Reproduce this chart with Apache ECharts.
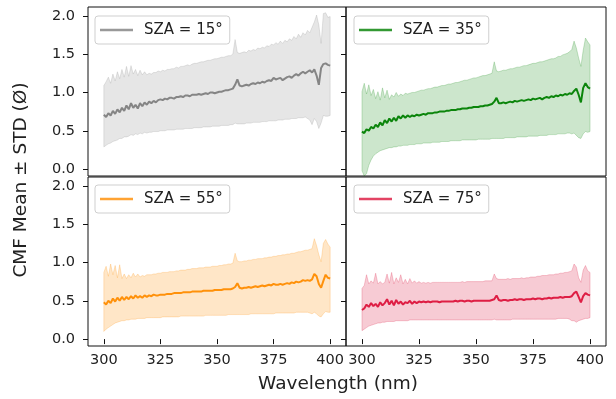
<!DOCTYPE html>
<html><head><meta charset="utf-8">
<script src="https://cdn.jsdelivr.net/npm/echarts@6/dist/echarts.min.js"></script>
<style>html,body{margin:0;padding:0;background:#fff}#c{width:616px;height:399px}</style>
</head><body><div id="c"></div>
<script>
const wavelengths = [300,301,302,303,304,305,306,307,308,309,310,311,312,313,314,315,316,317,318,319,320,321,322,323,324,325,326,327,328,329,330,331,332,333,334,335,336,337,338,339,340,341,342,343,344,345,346,347,348,349,350,351,352,353,354,355,356,357,358,359,360,361,362,363,364,365,366,367,368,369,370,371,372,373,374,375,376,377,378,379,380,381,382,383,384,385,386,387,388,389,390,391,392,393,394,395,396,397,398,399,400];

const seriesNames = ['SZA = 15°', 'SZA = 35°', 'SZA = 55°', 'SZA = 75°'];
const xTicks = [300, 325, 350, 375, 400];
const yTicks = [0, 0.5, 1.0, 1.5, 2.0];
const xLabel = 'Wavelength (nm)';
const yLabel = 'CMF Mean ± STD (Ø)';

// SZA = 15°
const mean15 = [0.71,0.68,0.73,0.70,0.76,0.72,0.78,0.74,0.80,0.76,
0.83,0.78,0.86,0.80,0.84,0.79,0.86,0.82,0.87,0.84,
0.88,0.86,0.89,0.87,0.90,0.91,0.90,0.92,0.91,0.93,
0.93,0.92,0.94,0.94,0.95,0.94,0.96,0.96,0.95,0.97,
0.97,0.97,0.98,0.97,0.98,0.99,0.98,1.00,1.00,0.99,
1.00,1.01,1.01,1.02,1.03,1.03,1.04,1.05,1.10,1.17,
1.09,1.08,1.09,1.10,1.09,1.11,1.12,1.11,1.13,1.12,
1.14,1.13,1.15,1.16,1.15,1.19,1.17,1.18,1.19,1.16,
1.18,1.20,1.21,1.19,1.22,1.24,1.22,1.25,1.27,1.25,
1.27,1.29,1.26,1.30,1.22,1.10,1.32,1.37,1.38,1.36,
1.35];
const upper15 = [1.09,1.14,1.20,1.12,1.24,1.15,1.27,1.18,1.30,1.20,
1.34,1.21,1.35,1.24,1.30,1.22,1.29,1.23,1.27,1.23,
1.25,1.24,1.26,1.26,1.28,1.27,1.29,1.28,1.30,1.30,
1.31,1.31,1.33,1.32,1.34,1.34,1.35,1.36,1.35,1.37,
1.38,1.38,1.39,1.40,1.40,1.41,1.42,1.42,1.43,1.44,
1.44,1.45,1.46,1.46,1.47,1.48,1.48,1.50,1.69,1.52,
1.51,1.52,1.53,1.52,1.55,1.54,1.56,1.55,1.58,1.57,
1.59,1.58,1.61,1.60,1.63,1.62,1.65,1.63,1.67,1.64,
1.68,1.66,1.70,1.68,1.73,1.70,1.76,1.72,1.78,1.75,
1.81,1.78,1.85,1.92,2.01,1.88,1.64,2.03,2.04,1.98,
1.99];
const lower15 = [0.29,0.31,0.33,0.34,0.36,0.37,0.38,0.40,0.40,0.42,
0.42,0.43,0.45,0.44,0.46,0.45,0.47,0.46,0.48,0.47,
0.48,0.48,0.49,0.49,0.49,0.50,0.50,0.50,0.51,0.51,
0.51,0.51,0.52,0.52,0.52,0.52,0.53,0.53,0.53,0.53,
0.54,0.54,0.54,0.54,0.55,0.55,0.55,0.55,0.56,0.56,
0.56,0.56,0.57,0.57,0.57,0.57,0.58,0.58,0.60,0.59,
0.59,0.59,0.59,0.60,0.60,0.60,0.61,0.61,0.61,0.61,
0.62,0.62,0.62,0.63,0.63,0.63,0.63,0.64,0.64,0.64,
0.65,0.65,0.65,0.66,0.66,0.66,0.67,0.67,0.67,0.68,
0.66,0.64,0.58,0.66,0.62,0.53,0.60,0.70,0.69,0.69,
0.70];

// SZA = 35°
const mean35 = [0.49,0.47,0.52,0.50,0.55,0.53,0.58,0.55,0.61,0.57,
0.64,0.60,0.66,0.62,0.67,0.63,0.69,0.66,0.70,0.67,
0.70,0.68,0.70,0.69,0.71,0.70,0.71,0.72,0.71,0.73,
0.73,0.73,0.74,0.74,0.75,0.75,0.75,0.76,0.76,0.77,
0.77,0.77,0.78,0.78,0.79,0.79,0.79,0.80,0.80,0.81,
0.81,0.81,0.82,0.82,0.83,0.83,0.84,0.85,0.88,0.93,
0.86,0.86,0.87,0.86,0.87,0.88,0.87,0.89,0.88,0.89,
0.90,0.89,0.90,0.91,0.90,0.92,0.91,0.92,0.93,0.91,
0.93,0.94,0.93,0.95,0.94,0.96,0.95,0.97,0.96,0.98,
0.97,0.99,0.98,1.02,1.05,0.97,0.87,1.06,1.12,1.07,
1.05];
const upper35 = [1.01,1.12,0.98,1.10,0.96,1.04,0.92,1.01,0.90,1.06,
0.93,1.03,0.91,0.97,0.94,1.00,0.95,0.98,0.96,0.99,
0.98,0.99,1.00,1.00,1.01,1.02,1.03,1.03,1.04,1.05,
1.05,1.06,1.07,1.07,1.08,1.09,1.09,1.10,1.11,1.11,
1.12,1.13,1.13,1.14,1.15,1.16,1.16,1.17,1.18,1.19,
1.19,1.20,1.21,1.22,1.22,1.23,1.24,1.25,1.40,1.28,
1.27,1.28,1.29,1.29,1.30,1.31,1.31,1.32,1.33,1.33,
1.34,1.35,1.35,1.36,1.37,1.38,1.38,1.39,1.40,1.40,
1.41,1.42,1.43,1.44,1.44,1.45,1.47,1.47,1.49,1.50,
1.51,1.53,1.56,1.67,1.58,1.45,1.34,1.55,1.71,1.66,
1.62];
const lower35 = [-0.02,-0.09,-0.06,0.05,0.12,0.17,0.20,0.22,0.24,0.25,
0.26,0.27,0.28,0.28,0.29,0.29,0.30,0.30,0.31,0.31,
0.31,0.32,0.32,0.32,0.33,0.33,0.33,0.34,0.34,0.34,
0.34,0.35,0.35,0.35,0.35,0.36,0.36,0.36,0.36,0.37,
0.37,0.37,0.37,0.37,0.38,0.38,0.38,0.38,0.38,0.38,
0.38,0.39,0.39,0.39,0.39,0.39,0.39,0.40,0.40,0.40,
0.40,0.40,0.40,0.41,0.41,0.41,0.41,0.41,0.42,0.42,
0.42,0.42,0.42,0.43,0.43,0.43,0.43,0.43,0.44,0.44,
0.44,0.44,0.45,0.45,0.45,0.45,0.46,0.46,0.46,0.46,
0.47,0.47,0.46,0.47,0.44,0.41,0.40,0.46,0.49,0.48,
0.49];

// SZA = 55°
const mean55 = [0.48,0.45,0.50,0.47,0.53,0.49,0.54,0.50,0.55,0.51,
0.55,0.52,0.56,0.53,0.57,0.54,0.56,0.54,0.57,0.55,
0.57,0.56,0.58,0.57,0.57,0.58,0.58,0.58,0.59,0.59,
0.59,0.60,0.60,0.60,0.60,0.61,0.61,0.61,0.61,0.62,
0.62,0.62,0.62,0.62,0.63,0.63,0.63,0.63,0.63,0.64,
0.64,0.64,0.64,0.65,0.65,0.65,0.65,0.66,0.68,0.73,
0.67,0.66,0.67,0.67,0.68,0.67,0.68,0.69,0.68,0.69,
0.70,0.69,0.70,0.71,0.70,0.72,0.71,0.71,0.72,0.71,
0.72,0.73,0.72,0.74,0.73,0.75,0.74,0.75,0.77,0.76,
0.77,0.76,0.78,0.85,0.82,0.72,0.67,0.76,0.84,0.80,
0.79];
const upper55 = [0.87,0.95,0.82,0.98,0.84,0.96,0.80,0.97,0.79,0.85,
0.79,0.84,0.80,0.86,0.81,0.85,0.81,0.83,0.82,0.84,
0.84,0.84,0.85,0.85,0.86,0.86,0.87,0.87,0.87,0.88,
0.88,0.88,0.89,0.89,0.90,0.90,0.90,0.91,0.91,0.92,
0.92,0.92,0.93,0.93,0.93,0.94,0.94,0.94,0.95,0.95,
0.95,0.96,0.96,0.97,0.97,0.98,0.98,0.99,1.12,1.02,
1.01,1.01,1.02,1.02,1.03,1.03,1.04,1.04,1.05,1.05,
1.05,1.06,1.06,1.07,1.07,1.08,1.08,1.09,1.09,1.10,
1.10,1.11,1.11,1.12,1.12,1.13,1.14,1.14,1.15,1.16,
1.16,1.17,1.18,1.31,1.22,1.10,1.01,1.25,1.30,1.24,
1.20];
const lower55 = [0.10,0.13,0.15,0.17,0.19,0.21,0.22,0.23,0.24,0.24,
0.25,0.25,0.26,0.26,0.26,0.27,0.27,0.27,0.27,0.28,
0.28,0.28,0.28,0.28,0.28,0.28,0.29,0.29,0.29,0.29,
0.29,0.29,0.29,0.29,0.30,0.30,0.30,0.30,0.30,0.30,
0.30,0.30,0.30,0.30,0.30,0.31,0.31,0.31,0.31,0.31,
0.31,0.31,0.31,0.31,0.31,0.32,0.32,0.32,0.32,0.32,
0.32,0.32,0.32,0.32,0.32,0.33,0.33,0.33,0.33,0.33,
0.33,0.33,0.33,0.33,0.33,0.33,0.34,0.34,0.34,0.34,
0.34,0.34,0.34,0.34,0.34,0.35,0.35,0.35,0.35,0.35,
0.35,0.34,0.33,0.35,0.33,0.30,0.29,0.33,0.36,0.35,
0.35];

// SZA = 75°
const mean75 = [0.38,0.40,0.45,0.42,0.47,0.43,0.46,0.42,0.48,0.44,
0.47,0.52,0.45,0.50,0.44,0.51,0.46,0.49,0.45,0.48,
0.47,0.50,0.46,0.49,0.47,0.49,0.48,0.49,0.48,0.49,
0.48,0.49,0.49,0.49,0.48,0.49,0.49,0.49,0.49,0.49,
0.49,0.50,0.49,0.50,0.50,0.49,0.50,0.50,0.49,0.50,
0.50,0.50,0.50,0.50,0.50,0.50,0.50,0.51,0.52,0.57,
0.51,0.50,0.51,0.51,0.50,0.51,0.51,0.52,0.51,0.52,
0.52,0.51,0.52,0.52,0.52,0.53,0.52,0.53,0.53,0.52,
0.53,0.53,0.54,0.53,0.54,0.54,0.54,0.55,0.54,0.55,
0.55,0.55,0.56,0.60,0.62,0.55,0.48,0.56,0.60,0.58,
0.57];
const upper75 = [0.66,0.70,0.84,0.72,0.76,0.73,0.86,0.72,0.75,0.72,
0.74,0.85,0.73,0.87,0.72,0.80,0.74,0.84,0.72,0.78,
0.72,0.79,0.73,0.76,0.73,0.75,0.73,0.74,0.73,0.74,
0.73,0.74,0.74,0.74,0.74,0.74,0.74,0.74,0.74,0.74,
0.74,0.74,0.74,0.74,0.75,0.74,0.75,0.75,0.75,0.75,
0.75,0.75,0.75,0.75,0.76,0.76,0.76,0.76,0.85,0.79,
0.78,0.78,0.78,0.78,0.79,0.78,0.79,0.79,0.79,0.79,
0.80,0.79,0.80,0.80,0.81,0.81,0.81,0.82,0.82,0.83,
0.83,0.83,0.84,0.84,0.84,0.85,0.85,0.86,0.86,0.87,
0.87,0.88,0.89,0.98,0.94,0.80,0.74,0.90,0.96,0.89,
0.87];
const lower75 = [0.11,0.13,0.15,0.17,0.18,0.19,0.20,0.21,0.21,0.22,
0.22,0.23,0.23,0.23,0.23,0.24,0.24,0.24,0.24,0.24,
0.24,0.25,0.25,0.25,0.25,0.25,0.25,0.25,0.25,0.25,
0.25,0.25,0.25,0.25,0.25,0.25,0.25,0.25,0.25,0.25,
0.25,0.25,0.25,0.25,0.25,0.25,0.25,0.25,0.25,0.25,
0.25,0.25,0.25,0.25,0.25,0.25,0.25,0.25,0.26,0.25,
0.25,0.25,0.25,0.25,0.25,0.25,0.26,0.26,0.26,0.26,
0.26,0.26,0.26,0.26,0.26,0.26,0.26,0.26,0.26,0.26,
0.26,0.26,0.26,0.26,0.26,0.26,0.27,0.27,0.27,0.27,
0.27,0.26,0.24,0.24,0.22,0.24,0.25,0.26,0.27,0.27,
0.28];

const FONT = 'DejaVu Sans';
const panels = [
  {name: seriesNames[0], mean: mean15, lo: lower15, hi: upper15, color: '#808080', bandOpacity: 0.2,
   grid: {left: 88, top: 7, width: 258, height: 169}, legend: {left: 95, top: 16}, showX: false, showY: true},
  {name: seriesNames[1], mean: mean35, lo: lower35, hi: upper35, color: '#008000', bandOpacity: 0.2,
   grid: {left: 346, top: 7, width: 260, height: 169}, legend: {left: 354, top: 16}, showX: false, showY: false},
  {name: seriesNames[2], mean: mean55, lo: lower55, hi: upper55, color: '#ff8c00', bandOpacity: 0.22,
   grid: {left: 88, top: 177, width: 258, height: 169}, legend: {left: 95, top: 185}, showX: true, showY: true},
  {name: seriesNames[3], mean: mean75, lo: lower75, hi: upper75, color: '#dc143c', bandOpacity: 0.22,
   grid: {left: 346, top: 177, width: 260, height: 169}, legend: {left: 354, top: 185}, showX: true, showY: false}
];

const grids = [], xAxes = [], yAxes = [], series = [], legends = [];
panels.forEach((p, i) => {
  grids.push(Object.assign({show: true, borderColor: '#111', borderWidth: 1, backgroundColor: 'transparent'}, p.grid));
  xAxes.push({
    type: 'value', gridIndex: i, min: 293, max: 407,
    axisLine: {show: false}, splitLine: {show: false},
    axisTick: {show: p.showX, length: 5, customValues: xTicks, lineStyle: {color: '#111'}},
    axisLabel: {show: p.showX, customValues: xTicks, fontSize: 14.5, fontFamily: FONT, color: '#222', margin: 7}
  });
  yAxes.push({
    type: 'value', gridIndex: i, min: -0.09, max: 2.115,
    axisLine: {show: false}, splitLine: {show: false},
    axisTick: {show: true, length: 5, customValues: yTicks, lineStyle: {color: '#111'}},
    axisLabel: {show: p.showY, customValues: yTicks, fontSize: 14.5, fontFamily: FONT, color: '#222', margin: 13,
      formatter: v => v.toFixed(1)}
  });
  series.push({
    type: 'custom', name: 'std' + i, xAxisIndex: i, yAxisIndex: i, z: 1, silent: true, clip: true,
    data: wavelengths.map((w, k) => [w, p.lo[k], p.hi[k]]),
    encode: {x: 0, y: [1, 2]},
    renderItem: (params, api) => {
      if (params.dataIndex !== 0) return null;
      const pts = [];
      for (let k = 0; k < wavelengths.length; k++) pts.push(api.coord([wavelengths[k], p.hi[k]]));
      for (let k = wavelengths.length - 1; k >= 0; k--) pts.push(api.coord([wavelengths[k], p.lo[k]]));
      return {type: 'polygon', shape: {points: pts},
        style: {fill: p.color, stroke: p.color, lineWidth: 1, opacity: p.bandOpacity}};
    }
  });
  series.push({
    type: 'line', name: p.name, xAxisIndex: i, yAxisIndex: i,
    symbol: 'none', z: 3, itemStyle: {color: p.color},
    lineStyle: {color: p.color, width: 2, opacity: 0.95},
    data: wavelengths.map((w, k) => [w, p.mean[k]])
  });
  legends.push({
    left: p.legend.left, top: p.legend.top, data: [{name: p.name, icon: 'rect', itemStyle: {color: p.color, opacity: 0.8}}],
    selectedMode: false, orient: 'horizontal', itemWidth: 33, itemHeight: 2.5,
    padding: [5, 7, 5, 5], borderColor: '#cfcfcf', borderWidth: 1, borderRadius: 3,
    backgroundColor: 'rgba(255,255,255,0.8)',
    textStyle: {fontSize: 15, fontFamily: FONT, color: '#222', lineHeight: 18, padding: [0, 0, 0, 6]}
  });
});

const chart = echarts.init(document.getElementById('c'), null, {renderer: 'canvas'});
chart.setOption({
  animation: false,
  backgroundColor: '#fff',
  grid: grids, xAxis: xAxes, yAxis: yAxes, series: series, legend: legends,
  graphic: [
    {type: 'text', x: 338, y: 384, z: 10,
     style: {text: xLabel, font: '18.5px "DejaVu Sans"', fill: '#222', align: 'center', verticalAlign: 'middle'}},
    {type: 'text', x: 21, y: 180, rotation: Math.PI / 2, z: 10,
     style: {text: yLabel, font: '18.5px "DejaVu Sans"', fill: '#222', align: 'center', verticalAlign: 'middle'}}
  ]
});
</script></body></html>
